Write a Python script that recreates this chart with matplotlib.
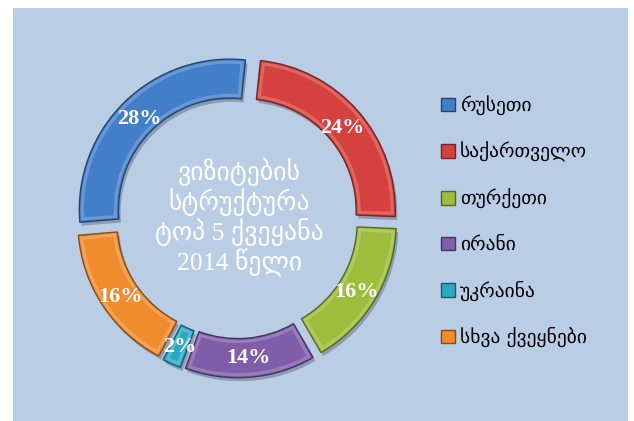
import matplotlib
matplotlib.use("Agg")
import matplotlib.pyplot as plt
import matplotlib.patheffects as pe
from matplotlib.patches import Wedge
from matplotlib.colors import to_rgb

# ---- data ----
categories = ["რუსეთი", "საქართველო", "თურქეთი", "ირანი", "უკრაინა", "სხვა ქვეყნები"]
values = [28, 24, 16, 14, 2, 16]
colors = ["#437ec9", "#d5413e", "#9dbd3c", "#7f5da9", "#2ca7c1", "#f08b2e"]
center_title = "ვიზიტების\nსტრუქტურა\nტოპ 5 ქვეყანა\n2014 წელი"

W, H = 634, 421
fig = plt.figure(figsize=(W / 100, H / 100), dpi=100)
fig.patch.set_facecolor("white")

bg = "#b9cde4"
fig.add_artist(plt.Rectangle((13 / W, 0), (628 - 13) / W, 1 - 8 / H,
                             transform=fig.transFigure, facecolor=bg,
                             edgecolor="none", zorder=0))

# pie axes
cx, cy = 237, 217
R = 168.0
lim = 1.12
size = 2 * lim * R
ax = fig.add_axes([(cx - size / 2) / W, (H - cy - size / 2) / H, size / W, size / H])
ax.set_xlim(-lim, lim)
ax.set_ylim(-lim, lim)
ax.set_aspect("equal")
ax.axis("off")

def darker(c, f=0.6):
    r, g, b = to_rgb(c)
    return (r * f, g * f, b * f)

def lighter(c, f=0.45):
    r, g, b = to_rgb(c)
    return (r + (1 - r) * f, g + (1 - g) * f, b + (1 - b) * f)

total = sum(values)
start = 90 + 360 * values[0] / total - 6
ring = 0.26
wedges, texts, autotexts = ax.pie(
    values, colors=colors, startangle=start, counterclock=False,
    explode=[0.068] * len(values), radius=1.0,
    wedgeprops=dict(width=ring, linewidth=1.0),
    autopct=lambda p: f"{p:.0f}%", pctdistance=0.86,
    textprops=dict(color="white", fontsize=16, fontweight="bold",
                   family=["Liberation Serif", "DejaVu Serif"], zorder=5),
)
for t in autotexts:
    x, y = t.get_position()
    t.set_position((x, y - 0.015))
for w, c in zip(wedges, colors):
    w.set_edgecolor(darker(c, 0.55))
    w.set_path_effects([pe.SimplePatchShadow(offset=(1.5, -2.5), alpha=0.35,
                                             shadow_rgbFace=(0.2, 0.25, 0.35)),
                        pe.Normal()])
    # soft bevel highlight (inset outline)
    d = 0.02
    dang = 1.3 if (w.theta2 - w.theta1) > 5 else 0.9
    hl = Wedge(w.center, w.r - d, w.theta1 + dang, w.theta2 - dang,
               width=ring - 2 * d, facecolor="none",
               edgecolor=lighter(c, 0.45), linewidth=2.2, alpha=0.45, zorder=3)
    ax.add_patch(hl)

ax.text(0.015, 0.0, center_title, ha="center", va="center", color="white",
        fontsize=18.5, linespacing=1.1, family=["Liberation Serif", "DejaVu Sans"])

# legend
leg = fig.legend(wedges, categories, loc="upper left",
                 bbox_to_anchor=(424 / W, 1 - 78 / H),
                 frameon=False, labelspacing=1.36,
                 handlelength=0.7, handleheight=0.7, handletextpad=0.25,
                 prop=dict(family=["DejaVu Sans"], size=14))
for h in leg.legend_handles:
    h.set_path_effects([])

fig.savefig("out.png", dpi=100, facecolor=fig.get_facecolor())
